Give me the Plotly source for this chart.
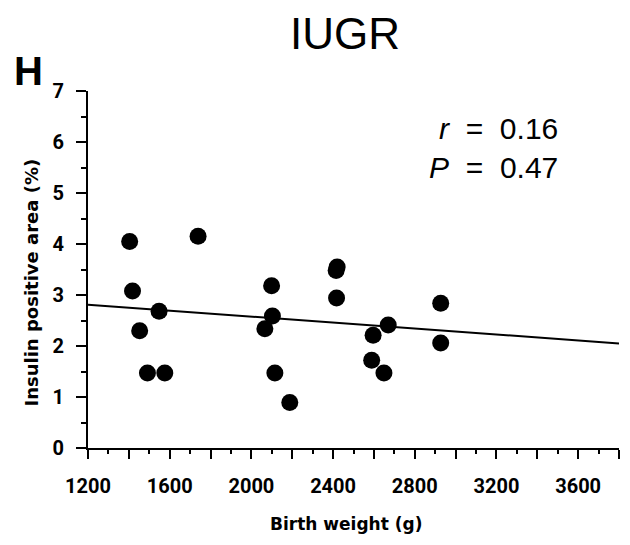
import plotly.graph_objects as go

# Data
birth_weight = [1404, 1739, 1418, 1548, 1453, 1491, 1576, 2099, 2103, 2066, 2115,
                2188, 2415, 2420, 2417, 2670, 2596, 2589, 2649, 2927, 2927]
insulin_area = [4.05, 4.15, 3.08, 2.68, 2.30, 1.47, 1.47, 3.18, 2.59, 2.34, 1.47,
                0.89, 3.48, 3.55, 2.94, 2.41, 2.21, 1.72, 1.47, 2.84, 2.06]
fit_x = [1200, 3800]
fit_y = [2.81, 2.05]
x_ticks = list(range(1200, 3801, 200))
x_tick_text = [str(v) if (v - 1200) % 400 == 0 and v < 3800 else "" for v in x_ticks]
y_ticks = [0, 1, 2, 3, 4, 5, 6, 7]

TICKFONT = dict(family="Roboto, DejaVu Sans", size=20, color="black", weight="bold")

fig = go.Figure()
fig.add_trace(go.Scatter(x=fit_x, y=fit_y, mode="lines",
                         line=dict(color="black", width=2), hoverinfo="skip"))
fig.add_trace(go.Scatter(x=birth_weight, y=insulin_area, mode="markers",
                         marker=dict(color="black", size=17, line=dict(width=0))))

fig.update_layout(
    width=630, height=545,
    margin=dict(l=80, r=19, t=83, b=105),
    paper_bgcolor="white", plot_bgcolor="white",
    showlegend=False,
    xaxis=dict(range=[1200, 3800], tickvals=x_ticks, ticktext=x_tick_text,
               ticks="outside", ticklen=9, tickwidth=2, tickcolor="black",
               ticklabelstandoff=10, automargin=False,
               minor=dict(dtick=100, tick0=1200, ticks="outside", ticklen=4, tickwidth=2, tickcolor="black"),
               showline=True, linewidth=2, linecolor="black", showgrid=False, zeroline=False,
               tickfont=TICKFONT),
    yaxis=dict(range=[0, 7], tickvals=y_ticks,
               ticks="outside", ticklen=10, tickwidth=2, tickcolor="black",
               ticklabelstandoff=8, automargin=False,
               minor=dict(dtick=0.5, tick0=0, ticks="outside", ticklen=5, tickwidth=2, tickcolor="black"),
               showline=True, linewidth=2, linecolor="black", showgrid=False, zeroline=False,
               tickfont=TICKFONT),
)

ann_common = dict(xref="paper", yref="paper", showarrow=False)
fig.add_annotation(text="IUGR", x=0.484, y=1.16, xanchor="center", yanchor="middle",
                   font=dict(family="Liberation Sans, Arial", size=44, color="black"), **ann_common)
fig.add_annotation(text="<b>H</b>", x=-0.112, y=1.057, xanchor="center", yanchor="middle",
                   font=dict(family="Liberation Sans, Arial", size=40, color="black"), **ann_common)
fig.add_annotation(text="<i>r</i>&nbsp;&nbsp;=&nbsp;&nbsp;0.16", x=0.889, y=0.896,
                   xanchor="right", yanchor="middle",
                   font=dict(family="Liberation Sans, Arial", size=30, color="black"), **ann_common)
fig.add_annotation(text="<i>P</i>&nbsp;&nbsp;=&nbsp;&nbsp;0.47", x=0.889, y=0.787,
                   xanchor="right", yanchor="middle",
                   font=dict(family="Liberation Sans, Arial", size=30, color="black"), **ann_common)
fig.add_annotation(text="Insulin positive area (%)", x=-0.107, y=0.464, textangle=-90,
                   xanchor="center", yanchor="middle",
                   font=dict(family="DejaVu Sans", size=18, color="black", weight="bold"),
                   **ann_common)
fig.add_annotation(text="Birth weight (g)", x=0.486, y=-0.213, xanchor="center", yanchor="middle",
                   font=dict(family="DejaVu Sans", size=17, color="black", weight="bold"),
                   **ann_common)

fig.write_html("out.html")
